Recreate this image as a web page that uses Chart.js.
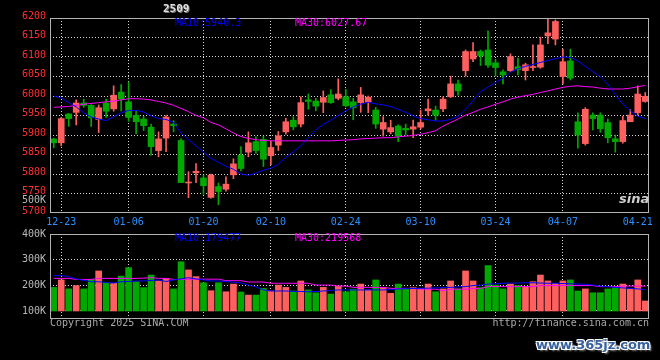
<!DOCTYPE html>
<html><head><meta charset="utf-8">
<script src="https://cdn.jsdelivr.net/npm/chart.js@4.4.1/dist/chart.umd.min.js"></script>
<style>
html,body{margin:0;padding:0;background:#000;width:660px;height:360px;overflow:hidden}
#wrap{position:relative;width:660px;height:360px;background:#000;font-family:'DejaVu Sans Mono',monospace}
canvas{position:absolute;left:0}
.t{position:absolute;font-size:10px;line-height:12px;white-space:pre;font-family:'DejaVu Sans Mono',monospace}
</style></head><body>
<div id="wrap">
<canvas id="pc" width="660" height="234" style="top:0"></canvas>
<canvas id="vc" width="660" height="138" style="top:222px"></canvas>
<div class="t" style="left:163px;top:3px;font-size:11px;font-weight:bold;color:#e0e0e0;text-shadow:1px 1px 0 #777">2509</div>
<div class="t" style="left:175px;top:17px;color:#0000ff">MA10:5940.3</div>
<div class="t" style="left:295px;top:17px;color:#ff00ff">MA30:6027.67</div>
<div class="t" style="left:22px;top:194px;color:#b8b8b8">500K</div>
<div class="t" style="left:175px;top:232px;color:#0000ff">MA10:179477</div>
<div class="t" style="left:295px;top:232px;color:#ff00ff">MA30:219568</div>
<div class="t" style="left:50px;top:317px;color:#a8a8a8">Copyright 2025 SINA.COM</div>
<div class="t" style="right:11px;top:317px;color:#a8a8a8">http://finance.sina.com.cn</div>
<div class="t" style="left:619px;top:191px;font:italic bold 13px 'DejaVu Sans',sans-serif;color:#cfcfcf">sina</div>
<div class="t" style="left:536px;top:337px;font:bold 13px 'DejaVu Sans',sans-serif;line-height:16px;color:#36619c;text-shadow:-1px -1px 0 #fff,1px -1px 0 #fff,-1px 1px 0 #fff,1px 1px 0 #fff,2px 2px 2px #888">www.365jz.com</div>
</div>
<script>
const DATES = ['12-20','12-23','12-24','12-25','12-26','12-27','12-30','12-31','01-02','01-03',
'01-06','01-07','01-08','01-09','01-10','01-13','01-14','01-15','01-16','01-17',
'01-20','01-21','01-22','01-23','01-24','01-27','02-05','02-06','02-07','02-10',
'02-11','02-12','02-13','02-14','02-17','02-18','02-19','02-20','02-21','02-24',
'02-25','02-26','02-27','02-28','03-03','03-04','03-05','03-06','03-07','03-10',
'03-11','03-12','03-13','03-14','03-17','03-18','03-19','03-20','03-21','03-24',
'03-25','03-26','03-27','03-28','03-31','04-01','04-02','04-03','04-07','04-08',
'04-09','04-10','04-11','04-14','04-15','04-16','04-17','04-18','04-21','04-22'];
const TICK_DATES = ['12-23','01-06','01-20','02-10','02-24','03-10','03-24','04-07','04-21'];

const OPEN = [5890,5880,5954,5958,5982,5976,5940,5982,5967,6010,
5985,5950,5941,5920,5860,5892,5928,5886,5777,5803,
5790,5740,5768,5761,5798,5848,5856,5883,5889,5847,
5874,5908,5938,5928,5990,5987,5984,6003,5994,5998,
5985,5983,5984,5964,5915,5908,5923,5917,5915,5920,
5962,5964,5967,5998,6031,6065,6095,6114,6118,6085,
6062,6065,6075,6065,6073,6074,6154,6146,6050,6090,
5934,5878,5951,5951,5932,5890,5883,5934,5957,5986];
const HIGH = [5892,5945,5955,5990,5992,5978,5977,5992,6026,6029,
6036,5962,5948,5928,5908,5950,5937,5890,5806,5827,
5797,5800,5777,5793,5839,5870,5908,5895,5897,5885,
5909,5943,5947,5998,6005,5994,6013,6016,6044,6017,
5994,6022,6000,5971,5947,5938,5926,5928,5938,5964,
5992,5974,5998,6051,6041,6118,6137,6118,6167,6094,
6067,6108,6097,6084,6131,6151,6199,6195,6120,6120,
5957,5970,5957,5957,5941,5900,5948,5965,6026,6009];
const LOW = [5867,5872,5922,5926,5971,5922,5906,5945,5961,5962,
5935,5903,5911,5848,5844,5857,5908,5778,5739,5778,
5748,5738,5721,5756,5788,5808,5844,5853,5819,5823,
5860,5902,5913,5921,5966,5962,5957,5981,5990,5972,
5939,5958,5957,5917,5897,5903,5883,5900,5893,5915,
5951,5938,5960,5996,6002,6051,6088,6078,6073,6051,
6031,6062,6054,6041,6065,6071,6134,6131,6031,6041,
5866,5874,5913,5907,5880,5856,5879,5934,5951,5984];
const CLOSE = [5880,5942,5942,5982,5976,5944,5970,5961,6002,5992,
5945,5934,5924,5870,5890,5946,5924,5778,5779,5807,
5770,5797,5755,5774,5826,5814,5880,5860,5838,5868,
5898,5934,5921,5983,5986,5974,5996,5983,6005,5975,
5970,6003,5997,5928,5932,5919,5897,5913,5921,5932,
5967,5951,5992,6031,6013,6114,6114,6103,6079,6073,
6054,6101,6068,6080,6075,6131,6162,6191,6088,6046,
5900,5966,5942,5916,5893,5883,5937,5951,6005,5999];
const MA10 = [6000,5995,5983,5972,5957,5946,5941,5937,5947,5957,
5963,5963,5959,5949,5942,5940,5932,5905,5888,5872,
5856,5840,5830,5820,5812,5800,5797,5802,5810,5815,
5825,5843,5857,5872,5893,5913,5927,5938,5950,5962,
5972,5979,5984,5980,5977,5973,5966,5958,5949,5942,
5939,5936,5936,5940,5948,5966,5988,6011,6023,6035,
6045,6061,6070,6076,6081,6086,6091,6096,6100,6099,
6090,6076,6062,6050,6030,6004,5980,5962,5948,5942];
const MA30 = [5971,5972,5973,5976,5979,5981,5983,5985,5987,5990,
5993,5993,5992,5990,5986,5982,5976,5968,5960,5950,
5944,5932,5926,5916,5905,5896,5891,5888,5886,5885,
5885,5885,5885,5885,5885,5885,5885,5885,5886,5887,
5888,5890,5891,5892,5893,5893,5895,5897,5899,5902,
5906,5911,5923,5932,5941,5951,5958,5966,5972,5979,
5985,5992,5997,6001,6004,6009,6013,6018,6022,6025,
6026,6024,6023,6020,6018,6018,6018,6020,6024,6027];

// volumes in thousands
const VOL_UNIT = 1000;
const VOLUME = [192,221,186,199,186,223,256,210,208,236,
269,214,191,240,217,227,186,292,260,234,
210,179,210,175,205,174,162,162,188,178,
201,192,178,217,182,171,192,166,197,175,
185,205,182,221,191,169,205,186,191,188,
205,175,186,217,186,256,217,191,277,201,
186,205,199,195,214,240,217,208,217,221,
178,186,171,171,186,191,205,186,221,139];
const VOL_MA10 = [238,238,234,225,219,214,214,211,209,214,
215,217,217,219,221,215,221,225,230,225,
221,217,217,215,212,209,201,194,182,178,
178,178,176,176,175,176,178,180,182,182,
182,182,182,182,182,183,186,187,188,188,
189,190,191,192,194,195,199,201,205,206,
208,209,209,210,210,209,208,208,207,206,
205,204,201,197,195,192,190,188,186,183];
const VOL_MA30 = [227,227,227,223,223,223,227,227,227,227,
227,227,228,230,227,227,223,223,224,224,
224,224,224,218,218,218,213,213,213,208,
208,208,208,208,208,201,201,201,197,197,
192,192,192,192,192,188,188,188,188,185,
185,185,179,185,185,185,188,188,195,195,
195,195,195,195,195,199,199,199,199,199,
199,199,199,195,195,195,197,197,197,197];

const PRICE_MIN = 5700, PRICE_MAX = 6200, PRICE_STEP = 50;
const VOL_TICKS = [100, 200, 300, 400];
const VOL_TICK_LABELS = ['100K','200K','300K','400K'];
const VOL_BASE = 100, VOL_AXIS_MIN = 68.8, VOL_AXIS_MAX = 400;

const UP = '#ff5f5f', DOWN = '#00a800';
const GRID = 'rgba(235,235,235,0.9)';
const FONT = {family:"'DejaVu Sans Mono', monospace", size:10};
const colors = CLOSE.map((c,i) => c >= OPEN[i] ? UP : DOWN);

const boxPlugin = {
  id:'box',
  afterDraw(chart){
    const {ctx, chartArea:a} = chart;
    ctx.save();
    ctx.strokeStyle = '#b4b4b4'; ctx.lineWidth = 1;
    const l = Math.round(a.left)+0.5, t = Math.round(a.top)+0.5;
    const r = Math.round(a.right)-0.5, b = Math.round(a.bottom)-0.5;
    ctx.strokeRect(l, t, r-l, b-t);
    ctx.restore();
  }
};

function xGridColor(ctx){
  if (ctx.type !== 'tick') return 'transparent';
  const i = ctx.index;
  if (!TICK_DATES.includes(DATES[i])) return 'transparent';
  const px = ctx.scale.getPixelForTick(i);
  if (px > ctx.scale.right - 15) return 'transparent';
  return GRID;
}

Chart.defaults.font.family = FONT.family;

new Chart(document.getElementById('pc'), {
  type:'bar',
  data:{
    labels: DATES,
    datasets:[
      {type:'line', data:MA10, borderColor:'#0000ff', borderWidth:1, pointRadius:0, tension:0},
      {type:'line', data:MA30, borderColor:'#ff00ff', borderWidth:1, pointRadius:0, tension:0},
      {type:'bar', data:OPEN.map((o,i)=>[o, CLOSE[i]]), backgroundColor:colors, barThickness:6, minBarLength:1, grouped:false, borderWidth:0},
      {type:'bar', data:LOW.map((l,i)=>[l, HIGH[i]]), backgroundColor:colors, barThickness:1, grouped:false, borderWidth:0}
    ]
  },
  options:{
    responsive:false, animation:false, devicePixelRatio:1,
    layout:{padding:{top:18, right:11, left:0, bottom:0}},
    plugins:{legend:{display:false}, tooltip:{enabled:false}},
    scales:{
      x:{
        type:'category', offset:true,
        grid:{offset:false, drawTicks:false, color:xGridColor, lineWidth:1},
        border:{display:false, dash:[1,2]},
        ticks:{autoSkip:false, maxRotation:0, minRotation:0, padding:3, color:'#2b8fff', font:FONT,
          callback:function(v, i){
            const d = DATES[i];
            if (!TICK_DATES.includes(d)) return '';
            return this.getPixelForTick(i) > this.right - 15 ? d + ' ' : d;
          }},
        afterFit:s=>{s.height = 21;}
      },
      y:{
        min:PRICE_MIN, max:PRICE_MAX,
        grid:{drawTicks:false, color:c => (c.tick && (c.tick.value===PRICE_MIN || c.tick.value===PRICE_MAX)) ? 'transparent' : GRID},
        border:{display:false, dash:[1,2]},
        ticks:{stepSize:PRICE_STEP, color:'#ff3030', padding:4, font:FONT, labelOffset:-2,
          callback:v => String(v)},
        afterFit:s=>{s.width = 50;}
      }
    }
  },
  plugins:[boxPlugin]
});

new Chart(document.getElementById('vc'), {
  type:'bar',
  data:{
    labels: DATES,
    datasets:[
      {type:'line', data:VOL_MA10.map(v=>v*VOL_UNIT), borderColor:'#0000ff', borderWidth:1, pointRadius:0, tension:0},
      {type:'line', data:VOL_MA30.map(v=>v*VOL_UNIT), borderColor:'#ff00ff', borderWidth:1, pointRadius:0, tension:0},
      {type:'bar', data:VOLUME.map(v=>[VOL_BASE*VOL_UNIT, v*VOL_UNIT]), backgroundColor:colors, barThickness:6, grouped:false, borderWidth:0}
    ]
  },
  options:{
    responsive:false, animation:false, devicePixelRatio:1,
    layout:{padding:{top:12, right:11, left:0, bottom:41}},
    plugins:{legend:{display:false}, tooltip:{enabled:false}},
    scales:{
      x:{
        type:'category', offset:true,
        grid:{offset:false, drawTicks:false, color:xGridColor, lineWidth:1},
        border:{display:false, dash:[1,2]},
        ticks:{display:false, autoSkip:false},
        afterFit:s=>{s.height = 0;}
      },
      y:{
        min:VOL_AXIS_MIN*VOL_UNIT, max:VOL_AXIS_MAX*VOL_UNIT,
        afterBuildTicks:s=>{ s.ticks = VOL_TICKS.map(v=>({value:v*VOL_UNIT})); },
        grid:{drawTicks:false, color:c => (c.tick && c.tick.value===VOL_AXIS_MAX*VOL_UNIT) ? 'transparent' : GRID},
        border:{display:false, dash:[1,2]},
        ticks:{color:'#b8b8b8', padding:4, font:FONT,
          callback:v => VOL_TICK_LABELS[VOL_TICKS.indexOf(v/VOL_UNIT)]},
        afterFit:s=>{s.width = 50;}
      }
    }
  },
  plugins:[boxPlugin]
});
</script>
</body></html>
